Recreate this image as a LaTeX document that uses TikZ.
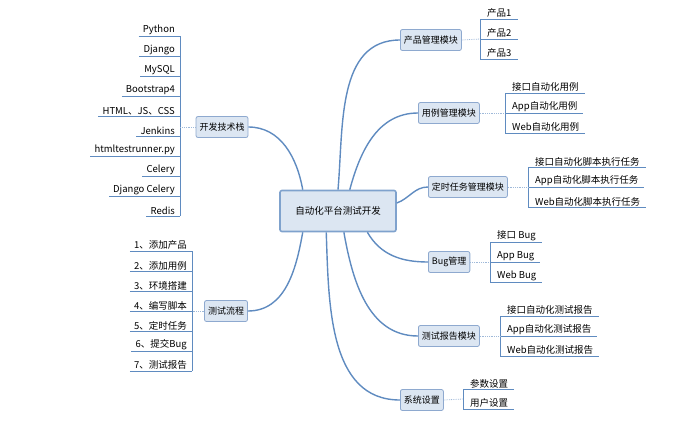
\documentclass[tikz,border=0pt]{standalone}
\usepackage{fontspec}
\setmainfont{Noto Sans CJK SC}
\usetikzlibrary{calc}

\definecolor{linkblue}{HTML}{5F8BC0}
\definecolor{boxfill}{HTML}{DCE6F2}
\definecolor{boxline}{HTML}{8EA9CF}

\tikzset{
	topic/.style={draw=boxline, fill=boxfill, rounded corners=2pt, line width=0.8pt,
		font=\fontsize{9}{10}\selectfont, inner sep=3.5pt, minimum height=21pt},
	rootbox/.style={topic, line width=1.6pt, draw=linkblue!80, minimum width=116pt, minimum height=41pt, font=\fontsize{9.5}{10}\selectfont},
	leaf/.style={font=\fontsize{9.5}{10}\selectfont, inner sep=1pt},
	link/.style={draw=linkblue, line width=1.4pt},
	under/.style={draw=linkblue, line width=0.9pt},
	tie/.style={draw=linkblue!60, densely dotted, line width=0.8pt}
}

\begin{document}
\begin{tikzpicture}[x=1pt,y=-1pt]
	\useasboundingbox (0,0) rectangle (687,421);

	%root
	\node[rootbox] (root) at (338,211) {自动化平台测试开发};

	%main topics
	\node[topic] (tech) at (222,127) {开发技术栈};
	\node[topic] (flow) at (226,311) {测试流程};
	\node[topic, anchor=west] (prod) at (400,40)  {产品管理模块};
	\node[topic, anchor=west] (case) at (418,113) {用例管理模块};
	\node[topic, anchor=west] (task) at (428,187) {定时任务管理模块};
	\node[topic, anchor=west] (bug)  at (428,262) {Bug管理};
	\node[topic, anchor=west] (rep)  at (418,336) {测试报告模块};
	\node[topic, anchor=west] (sys)  at (400,400) {系统设置};

	%curves
	\draw[link] ($(root.north west)!0.2!(root.north east)$) to[out=100,in=0] (tech.east);
	\draw[link] ($(root.south west)!0.2!(root.south east)$) to[out=-100,in=0] (flow.east);
	\draw[link] ($(root.north west)!0.5!(root.north east)$) to[out=85,in=180] (prod.west);
	\draw[link] ($(root.north west)!0.6!(root.north east)$) to[out=75,in=180] (case.west);
	\draw[link] (root.east) ++(0,-8) to[out=20,in=180] (task.west);
	\draw[link] ($(root.south west)!0.75!(root.south east)$) to[out=-60,in=180] (bug.west);
	\draw[link] ($(root.south west)!0.55!(root.south east)$) to[out=-80,in=180] (rep.west);
	\draw[link] ($(root.south west)!0.4!(root.south east)$) to[out=-88,in=180] (sys.west);

	%left leaves: tech stack
	\foreach \t [count=\i] in {Python,Django,MySQL,Bootstrap4,HTML、JS、CSS,Jenkins,htmltestrunner.py,Celery,Django Celery,Redis}{
		\node[leaf, anchor=south east] (t\i) at (176,16+20*\i) {\t};
		\draw[under] ([xshift=-3pt]t\i.south west) -- (180,16+20*\i);
	}
	\draw[under] (180,36) -- (180,216);
	\draw[tie] (tech.west) -- (180,127);

	%left leaves: test flow
	\foreach \t [count=\i] in {1、添加产品,2、添加用例,3、环境搭建,4、编写脚本,5、定时任务,6、提交Bug,7、测试报告}{
		\node[leaf, anchor=south east] (f\i) at (188,231+20*\i) {\t};
		\draw[under] ([xshift=-3pt]f\i.south west) -- (192,231+20*\i);
	}
	\draw[under] (192,251) -- (192,371);
	\draw[tie] (flow.west) -- (192,311);

	%right leaves
	\foreach \nm/\bx/\ey/\tl in {
		prod/480/19/{产品1,产品2,产品3},
		case/505/93/{接口自动化用例,App自动化用例,Web自动化用例},
		task/528/167/{接口自动化脚本执行任务,App自动化脚本执行任务,Web自动化脚本执行任务},
		bug/490/242/{接口 Bug,App Bug,Web Bug},
		rep/500/316/{接口自动化测试报告,App自动化测试报告,Web自动化测试报告},
		sys/463/389/{参数设置,用户设置}}{
		\foreach \t [count=\i] in \tl {
			\node[leaf, anchor=south west] (\nm\i) at (\bx+6,\ey+20*\i-20) {\t};
			\draw[under] (\bx,\ey+20*\i-20) -- ([xshift=5pt]\nm\i.south east);
			\xdef\lasty{\ey+20*\i-20}
		}
		\draw[under] (\bx,\ey) -- (\bx,\lasty);
		\draw[tie] (\nm.east) -- (\bx,{(\ey+\lasty)/2});
	}
\end{tikzpicture}
\end{document}
